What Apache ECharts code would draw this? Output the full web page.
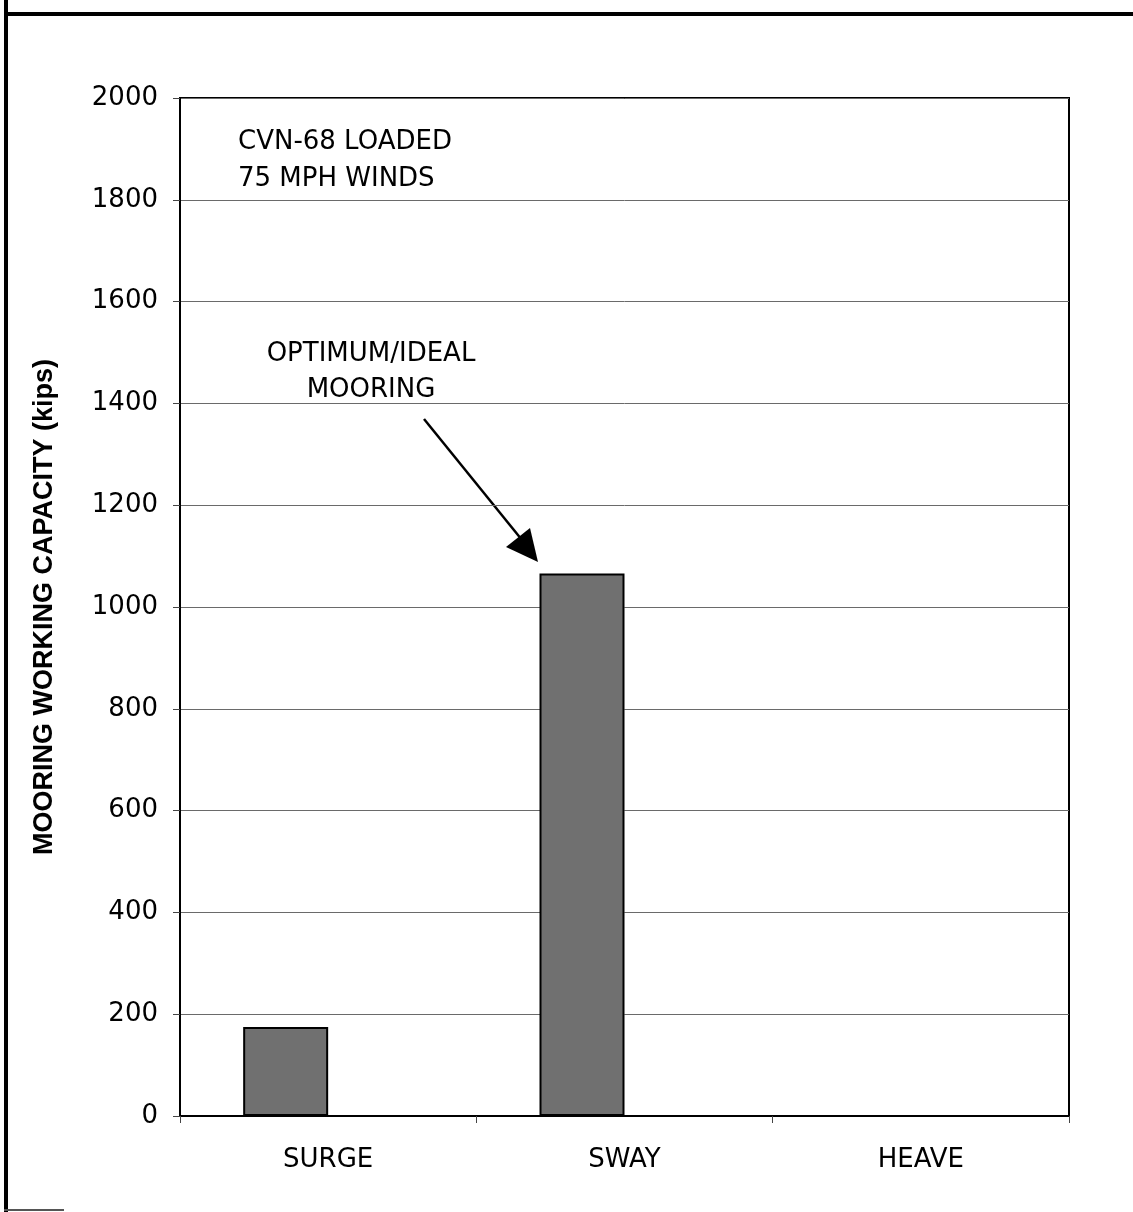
<!DOCTYPE html>
<html>
<head>
<meta charset="utf-8">
<script src="https://cdn.jsdelivr.net/npm/echarts@6/dist/echarts.min.js"></script>
<style>
html,body{margin:0;padding:0;background:#fff;}
#c{width:1133px;height:1212px;}
</style>
</head>
<body>
<div id="c"></div>
<script>
const categories = ['SURGE', 'SWAY', 'HEAVE'];
const capacityValues = [175, 1066, 0];
const emptySeriesValues = [null, null, null];
const yTicks = [0, 200, 400, 600, 800, 1000, 1200, 1400, 1600, 1800, 2000];
const yAxisName = 'MOORING WORKING CAPACITY (kips)';
const noteLines = ['CVN-68 LOADED', '75 MPH WINDS'];
const arrowLabelLines = ['OPTIMUM/IDEAL', 'MOORING'];

const chart = echarts.init(document.getElementById('c'), null, {renderer: 'canvas'});
const FONT = 'DejaVu Sans';

const option = {
  backgroundColor: '#fff',
  animation: false,
  grid: {left: 180, top: 98, right: 64, bottom: 96, show: true, borderColor: '#000', borderWidth: 2, backgroundColor: 'transparent'},
  xAxis: {
    type: 'category',
    data: categories,
    axisLine: {show: true, lineStyle: {color: '#000', width: 2}},
    axisTick: {show: true, length: 7, lineStyle: {color: '#444', width: 1}},
    axisLabel: {color: '#000', fontFamily: FONT, fontSize: 26, margin: 31},
    splitLine: {show: false}
  },
  yAxis: {
    type: 'value',
    min: yTicks[0],
    max: yTicks[yTicks.length - 1],
    interval: yTicks[1] - yTicks[0],
    name: yAxisName,
    nameLocation: 'middle',
    nameGap: 122,
    nameTextStyle: {color: '#000', fontFamily: 'Liberation Sans', fontWeight: 'bold', fontSize: 27},
    axisLine: {show: true, lineStyle: {color: '#000', width: 2}},
    axisTick: {show: true, length: 7, lineStyle: {color: '#444', width: 1}},
    axisLabel: {color: '#000', fontFamily: FONT, fontSize: 26, margin: 22, formatter: function (v) { return String(v); }},
    splitLine: {show: true, lineStyle: {color: '#6a6a6a', width: 1}}
  },
  series: [
    {
      type: 'bar',
      data: capacityValues,
      barWidth: 85,
      barGap: '0%',
      itemStyle: {color: '#707070', borderColor: '#000', borderWidth: 2}
    },
    {
      type: 'bar',
      data: emptySeriesValues,
      barWidth: 85,
      barGap: '0%',
      itemStyle: {color: '#707070'}
    }
  ],
  graphic: [
    {type: 'line', shape: {x1: 6, y1: 0, x2: 6, y2: 1212}, style: {stroke: '#000', lineWidth: 4}, silent: true},
    {type: 'line', shape: {x1: 4, y1: 14, x2: 1133, y2: 14}, style: {stroke: '#000', lineWidth: 4}, silent: true},
    {type: 'line', shape: {x1: 4, y1: 1210, x2: 64, y2: 1210}, style: {stroke: '#555', lineWidth: 2}, silent: true},
    {type: 'text', x: 238, y: 124, style: {text: noteLines.join('\n'), fill: '#000', font: '26px "DejaVu Sans"', lineHeight: 37}, silent: true},
    {type: 'text', x: 371, y: 336, style: {text: arrowLabelLines.join('\n'), fill: '#000', font: '26px "DejaVu Sans"', lineHeight: 36, align: 'center'}, silent: true},
    {type: 'line', shape: {x1: 424, y1: 419, x2: 522, y2: 540}, style: {stroke: '#000', lineWidth: 2.5}, silent: true},
    {type: 'polygon', shape: {points: [[538, 562], [506, 547], [530, 528]]}, style: {fill: '#000'}, silent: true}
  ]
};
chart.setOption(option);
</script>
</body>
</html>
